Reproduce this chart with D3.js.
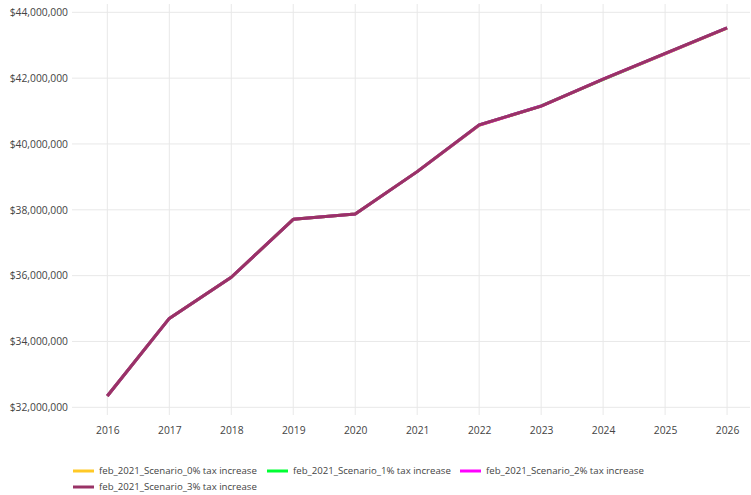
<!DOCTYPE html>
<html>
<head>
<meta charset="utf-8">
<script src="https://cdn.jsdelivr.net/npm/d3@7"></script>
<style>
body{margin:0;background:#fff;}
svg{font-family:"Open Sans",sans-serif;}
</style>
</head>
<body>
<svg id="chart" width="751" height="495"></svg>
<script>
const years = [2016,2017,2018,2019,2020,2021,2022,2023,2024,2025,2026];
const seriesNames = [
  "feb_2021_Scenario_0% tax increase",
  "feb_2021_Scenario_1% tax increase",
  "feb_2021_Scenario_2% tax increase",
  "feb_2021_Scenario_3% tax increase"
];
const seriesColors = ["#ffc926","#00ff33","#ff00ff","#993366"];
const scenario0 = [32344000,34700000,35950000,37710000,37870000,39160000,40570000,41150000,41960000,42740000,43520000];
const scenario1 = [32344000,34700000,35950000,37710000,37870000,39160000,40575000,41155000,41965000,42745000,43525000];
const scenario2 = [32344000,34700000,35950000,37710000,37870000,39160000,40577000,41152000,41968000,42748000,43528000];
const scenario3 = [32344000,34700000,35950000,37710000,37870000,39160000,40580000,41150000,41970000,42750000,43530000];
const yTicks = [32000000,34000000,36000000,38000000,40000000,42000000,44000000];

(function(){
const allSeries = [scenario0,scenario1,scenario2,scenario3];
const svg = d3.select("#chart");
const mL = 72, mR = 750, mT = 4, mB = 415;

const x = d3.scaleLinear().domain([2015.43,2026.37]).range([mL,mR]);
const y = d3.scaleLinear().domain([44000000 + 2000000*(12.3-mT)/65.83, 32000000 - 2000000*(mB-407.3)/65.83]).range([mT,mB]);

const g = svg.append("g");
g.selectAll("line.vg").data(years).join("line")
  .attr("x1",d=>x(d)).attr("x2",d=>x(d)).attr("y1",mT).attr("y2",mB)
  .attr("stroke","#e8e8e8").attr("stroke-width",1);
g.selectAll("line.hg").data(yTicks).join("line")
  .attr("x1",mL).attr("x2",mR).attr("y1",d=>y(d)).attr("y2",d=>y(d))
  .attr("stroke","#e8e8e8").attr("stroke-width",1);

const fmt = d3.format("$,.0f");
const xAxis = d3.axisBottom(x).tickValues(years).tickFormat(d3.format("d")).tickSize(0).tickPadding(12);
const xg = svg.append("g").attr("transform",`translate(0,${mB})`).call(xAxis);
const yAxis = d3.axisLeft(y).tickValues(yTicks).tickFormat(fmt).tickSize(0).tickPadding(4);
const yg = svg.append("g").attr("transform",`translate(${mL},0)`).call(yAxis);
[xg,yg].forEach(a=>{
  a.select(".domain").remove();
  a.selectAll("text").attr("font-family","Open Sans, sans-serif").attr("font-size",10.3).attr("fill","#444");
});

const line = d3.line().x((d,i)=>x(years[i])).y(d=>y(d));
svg.append("g").selectAll("path").data(allSeries).join("path")
  .attr("d",line).attr("fill","none")
  .attr("stroke",(d,i)=>seriesColors[i]).attr("stroke-width",3)
  .attr("stroke-linejoin","round");

const legendPos = [[73,471],[267,471],[460,471],[73,487]];
const lg = svg.append("g");
seriesNames.forEach((name,i)=>{
  const [lx,ly] = legendPos[i];
  lg.append("line").attr("x1",lx).attr("x2",lx+21).attr("y1",ly).attr("y2",ly)
    .attr("stroke",seriesColors[i]).attr("stroke-width",3);
  lg.append("text").attr("x",lx+26).attr("y",ly).attr("dy","0.35em")
    .attr("font-size",9.65).attr("fill","#444").text(name);
});
})();
</script>
</body>
</html>
